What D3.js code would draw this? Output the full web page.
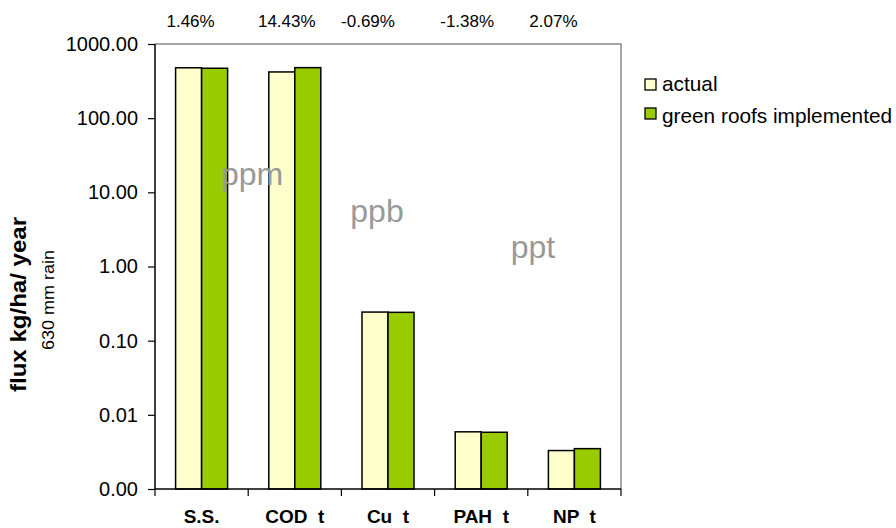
<!DOCTYPE html>
<html>
<head>
<meta charset="utf-8">
<script src="https://cdn.jsdelivr.net/npm/d3@7"></script>
<style>
  html, body { margin: 0; padding: 0; background: #fff; }
  svg { display: block; font-family: "Liberation Sans", Arial, sans-serif; }
</style>
</head>
<body>
<svg id="chart" width="896" height="528"></svg>
<script>
// ---- data ----
const categories = ["S.S.", "COD  t", "Cu  t", "PAH  t", "NP  t"];
const actual = [478, 420, 0.243, 0.0059, 0.0033];
const greenRoofs = [471, 480, 0.241, 0.00582, 0.0035];
const changeLabels = ["1.46%", "14.43%", "-0.69%", "-1.38%", "2.07%"];
const yTicks = [0.001, 0.01, 0.1, 1, 10, 100, 1000];
const seriesNames = ["actual", "green roofs implemented"];
const unitLabels = ["ppm", "ppb", "ppt"];

// ---- layout ----
const svg = d3.select("#chart");
const pL = 155, pR = 621, pT = 44, pB = 489;
const colors = ["#FFFFCC", "#99CC00"];

const x = d3.scaleBand().domain(categories).range([pL, pR]).padding(0);
const y = d3.scaleLog().domain([0.001, 1000]).range([pB, pT]);
const barW = 26;

// plot border (top & right, gray)
svg.append("path")
  .attr("d", `M${pL},${pT}H${pR}V${pB}`)
  .attr("fill", "none").attr("stroke", "#888").attr("stroke-width", 1.5);

// bars
const series = [actual, greenRoofs];
series.forEach((vals, si) => {
  svg.append("g").selectAll("rect").data(vals).join("rect")
    .attr("x", (d, i) => x(categories[i]) + x.bandwidth() / 2 - barW + si * barW)
    .attr("y", d => y(d))
    .attr("width", barW)
    .attr("height", d => pB - y(d))
    .attr("fill", colors[si])
    .attr("stroke", "#000")
    .attr("stroke-width", 1.5);
});

// y axis
const yAxis = d3.axisLeft(y).tickValues(yTicks).tickFormat(d3.format(".2f")).tickSize(7).tickPadding(10);
const yg = svg.append("g").attr("transform", `translate(${pL},0)`).call(yAxis);
yg.select(".domain").attr("stroke", "#000").attr("stroke-width", 1.5).attr("d", `M0,${pT}V${pB}`);
yg.selectAll(".tick line").attr("stroke", "#000").attr("stroke-width", 1.2);
yg.selectAll(".tick text").attr("font-size", 20).attr("fill", "#000")
  .attr("font-family", "Liberation Sans, Arial, sans-serif");

// x axis
const xAxis = d3.axisBottom(x).tickSize(0).tickFormat(() => "");
const xg = svg.append("g").attr("transform", `translate(0,${pB})`).call(xAxis);
xg.select(".domain").attr("stroke", "#000").attr("stroke-width", 1.5).attr("d", `M${pL},0H${pR}`);
// category boundary ticks
const bounds = categories.map(c => x(c)).concat([pR]);
svg.append("g").selectAll("line").data(bounds).join("line")
  .attr("x1", d => d).attr("x2", d => d)
  .attr("y1", pB).attr("y2", pB + 7)
  .attr("stroke", "#000").attr("stroke-width", 1.2);
// category labels
svg.append("g").selectAll("text").data(categories).join("text")
  .attr("x", d => x(d) + x.bandwidth() / 2)
  .attr("y", 523)
  .attr("text-anchor", "middle")
  .attr("font-size", 19).attr("font-weight", "bold")
  .style("white-space", "pre")
  .text(d => d);

// change labels above
const labelOffsets = [-11, -8, -20, -14, -21];
svg.append("g").selectAll("text").data(changeLabels).join("text")
  .attr("x", (d, i) => x(categories[i]) + x.bandwidth() / 2 + labelOffsets[i])
  .attr("y", 27)
  .attr("text-anchor", "middle")
  .attr("font-size", 17)
  .text(d => d);

// unit labels (gray)
const unitPos = [[252, 185], [377, 222], [533, 258]];
svg.append("g").selectAll("text").data(unitLabels).join("text")
  .attr("x", (d, i) => unitPos[i][0])
  .attr("y", (d, i) => unitPos[i][1])
  .attr("text-anchor", "middle")
  .attr("font-size", 32)
  .attr("fill", "#999")
  .text(d => d);

// y axis title
svg.append("text")
  .attr("transform", "translate(26,304.5) rotate(-90)")
  .attr("text-anchor", "middle")
  .attr("font-size", 22).attr("font-weight", "bold")
  .attr("textLength", 175).attr("lengthAdjust", "spacingAndGlyphs")
  .text("flux kg/ha/ year");
svg.append("text")
  .attr("transform", "translate(54,300) rotate(-90)")
  .attr("text-anchor", "middle")
  .attr("font-size", 17)
  .attr("textLength", 100).attr("lengthAdjust", "spacingAndGlyphs")
  .text("630 mm rain");

// legend
const lg = svg.append("g");
seriesNames.forEach((name, i) => {
  lg.append("rect")
    .attr("x", 645).attr("y", 79 + i * 29)
    .attr("width", 11).attr("height", 11)
    .attr("fill", colors[i]).attr("stroke", "#000").attr("stroke-width", 1.3);
  lg.append("text")
    .attr("x", 662).attr("y", 91 + i * 32)
    .attr("font-size", 20.8)
    .text(name);
});
</script>
</body>
</html>
